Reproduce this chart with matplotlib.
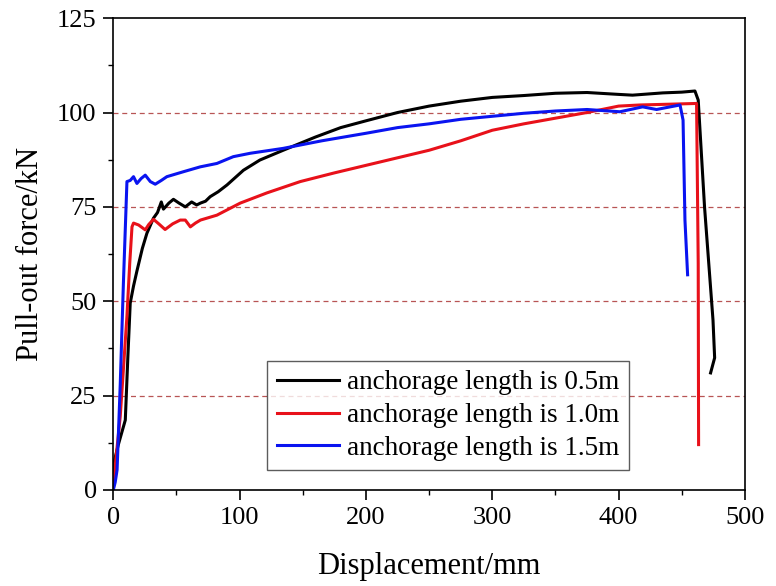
import matplotlib
matplotlib.use('Agg')
import matplotlib.pyplot as plt
from matplotlib.ticker import MultipleLocator

# curve for anchorage length 0.5 m
x_05 = [0, 0.3, 4, 9.5, 11.5, 13.4, 16, 18.7, 23, 26.6, 31.8, 35, 38, 39.7, 44, 47.6, 52, 57, 62, 66, 69,
        73, 76.7, 83, 90, 103, 116, 134.5, 160, 180, 200, 225, 250, 275, 300, 325, 350, 375, 400, 411,
        435, 450, 460.4, 463, 468, 474.7, 476, 472.8]
y_05 = [0, 7, 12, 18.5, 35, 49.5, 54, 58, 64, 68, 72, 73.5, 76.3, 74.4, 76, 77, 76, 75, 76.3, 75.5, 76,
        76.5, 77.7, 79, 80.8, 84.7, 87.4, 90, 93.5, 96, 97.8, 100, 101.7, 103, 104, 104.5, 105.1, 105.3, 104.8, 104.6,
        105.2, 105.4, 105.7, 103.3, 75, 45, 35, 31]

# curve for anchorage length 1.0 m
x_10 = [0, 2, 5.5, 8, 10.8, 13, 14.8, 16, 20, 25.3, 28, 31.8, 36, 41, 47, 53, 57, 61, 65, 69, 82,
        100.5, 121.6, 148, 175, 200, 225, 250, 275, 300, 325, 350, 375, 400, 417, 440, 461.7, 463, 463.3]
y_10 = [0, 8, 19.5, 32, 46, 60, 69.7, 70.7, 70.2, 68.9, 70.3, 71.7, 70.5, 69, 70.5, 71.5, 71.5, 69.7, 70.7, 71.5, 72.8,
        76, 78.7, 81.7, 84, 86, 88, 90, 92.5, 95.3, 97, 98.5, 100, 101.7, 102, 102.2, 102.4, 60, 12]

# curve for anchorage length 1.5 m
x_15 = [0, 1.5, 3, 5.5, 8, 10.8, 13.4, 16, 18.7, 22, 25.3, 29.3, 33.2, 38, 42.4, 55.4, 68.8, 82, 95, 108.4,
        134.5, 165, 200, 225, 250, 275, 300, 325, 350, 375, 401, 419, 430, 448.6, 451, 452.5, 454.6]
y_15 = [0, 2, 5.3, 28, 54.8, 81.7, 82, 83, 81.2, 82.5, 83.4, 81.7, 81, 82, 83, 84.3, 85.6, 86.5, 88.3, 89.2,
        90.5, 92.5, 94.5, 96, 97, 98.2, 99, 99.8, 100.4, 100.8, 100.2, 101.5, 100.8, 102, 98, 71.5, 57]

labels = ['anchorage length is 0.5m', 'anchorage length is 1.0m', 'anchorage length is 1.5m']

plt.rcParams['font.family'] = ['Liberation Serif', 'DejaVu Serif']

fig = plt.figure(figsize=(7.76, 5.86), dpi=100)
ax = fig.add_axes([0.146, 0.164, 0.814, 0.805])

# dashed reference lines
for yv in [25, 50, 75, 100]:
    ax.axhline(yv, color='#b85555', linestyle=(0, (4, 3)), linewidth=0.9, zorder=0)

ax.plot(x_05, y_05, color='black', linewidth=2.2, label=labels[0])
ax.plot(x_10, y_10, color='#e8111a', linewidth=2.2, label=labels[1])
ax.plot(x_15, y_15, color='#0a14f0', linewidth=2.2, label=labels[2])

ax.set_xlim(0, 500)
ax.set_ylim(0, 125)
ax.xaxis.set_major_locator(MultipleLocator(100))
ax.xaxis.set_minor_locator(MultipleLocator(50))
ax.yaxis.set_major_locator(MultipleLocator(25))
ax.yaxis.set_minor_locator(MultipleLocator(12.5))
ax.tick_params(which='major', direction='out', length=7, width=1.2, labelsize=19, pad=5)
ax.tick_params(which='minor', direction='out', length=3.5, width=1.0)
for s in ax.spines.values():
    s.set_linewidth(1.2)

ax.set_xlabel('Displacement/mm', fontsize=22, labelpad=17)
ax.set_ylabel('Pull-out force/kN', fontsize=22, labelpad=9)

leg = ax.legend(loc='lower left', bbox_to_anchor=(0.244, 0.042), fontsize=19.5, frameon=True,
                fancybox=False, edgecolor='#333333', handlelength=2.3, handletextpad=0.3,
                borderpad=0.35, labelspacing=0.28, borderaxespad=0)
leg.get_frame().set_linewidth(1.0)

plt.savefig('out.png', dpi=100)
